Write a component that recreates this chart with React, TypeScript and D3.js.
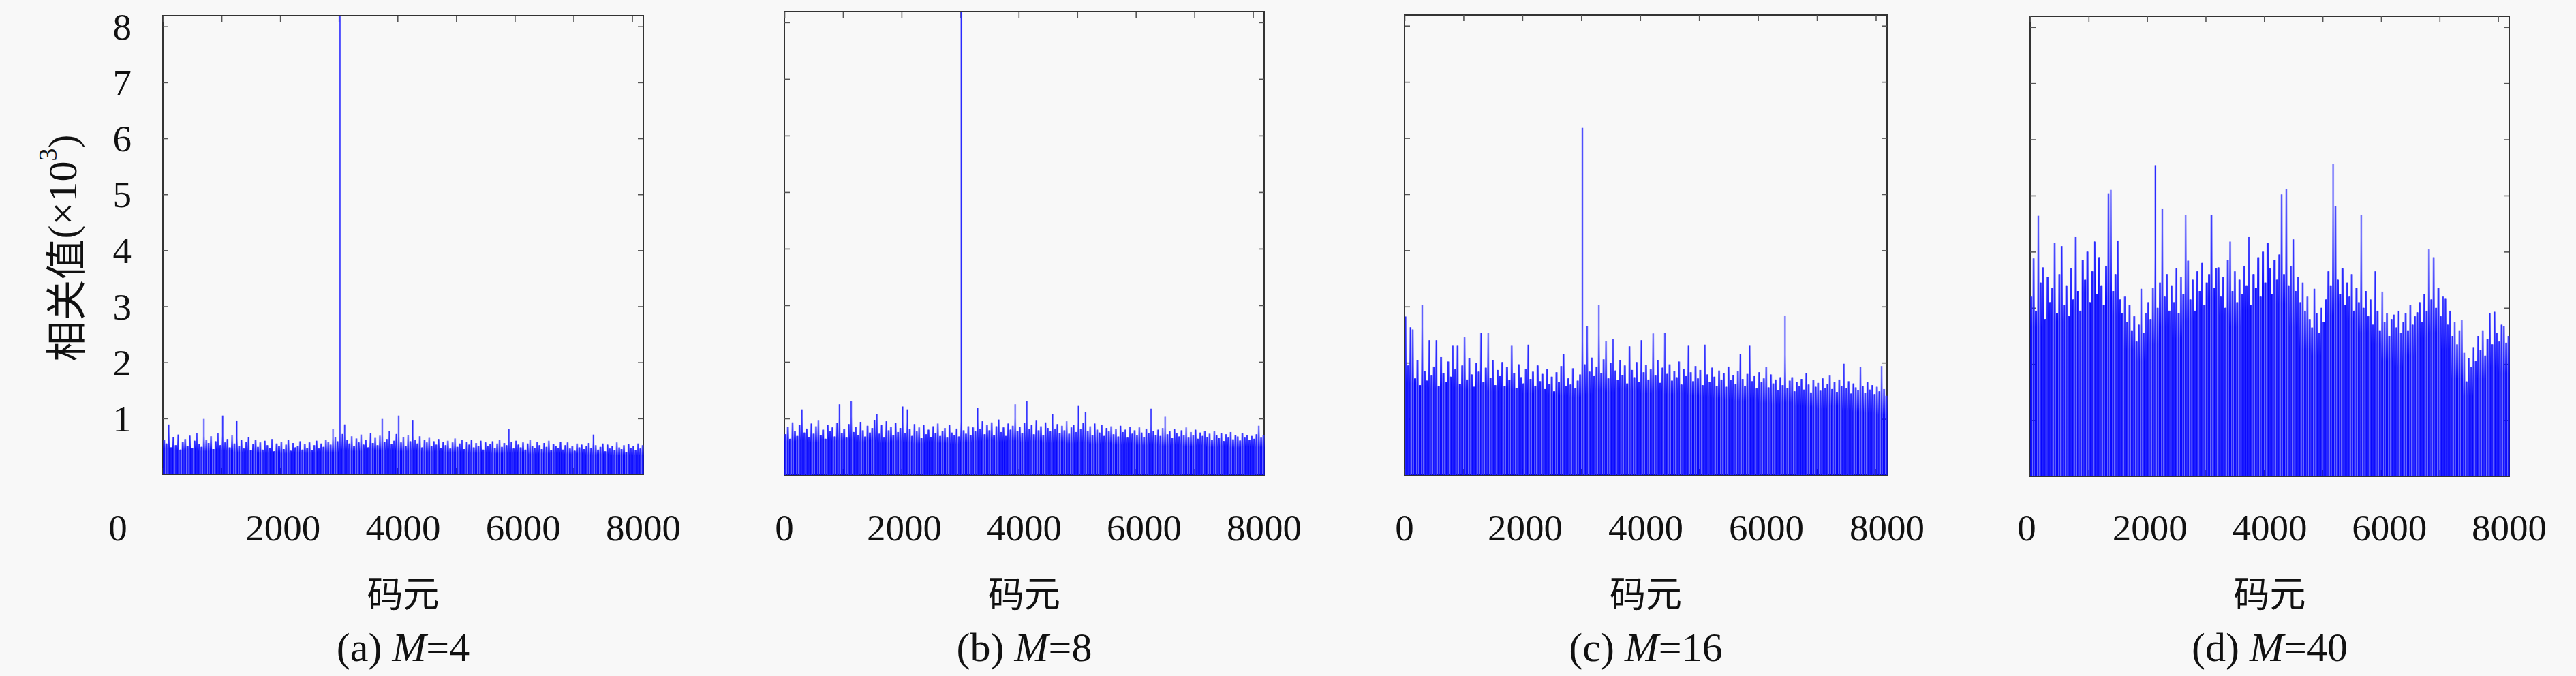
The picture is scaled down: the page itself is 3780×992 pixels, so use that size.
import * as d3 from "d3";
import React, { useRef, useEffect } from "react";

const WIDTH = 3780;
const HEIGHT = 992;
const CODE_LEN = 8191;
const Y_MAX = 8.191;
const STEP = 40; // code elements per peak sample
const BODY_STEP = 200; // code elements per dense-level sample

const xTickValues = [0, 1000, 2000, 3000, 4000, 5000, 6000, 7000, 8000];
const xTickLabels = [0, 2000, 4000, 6000, 8000];
const yTickValues = [1, 2, 3, 4, 5, 6, 7, 8];

// local maximum of the correlation every 40 code elements (x10^3)
const peaksM4 = [
  0.62, 0.55, 0.89, 0.48, 0.66, 0.52, 0.71, 0.44, 0.58, 0.63, 0.50, 0.69, 0.47, 0.60, 0.73, 0.54, 0.49, 0.99, 0.61, 0.56,
  0.68, 0.45, 0.59, 0.74, 0.52, 1.05, 0.57, 0.63, 0.48, 0.70, 0.55, 0.95, 0.50, 0.62, 0.46, 0.58, 0.66, 0.43, 0.54, 0.61,
  0.49, 0.57, 0.44, 0.60, 0.52, 0.47, 0.63, 0.41, 0.55, 0.50, 0.58, 0.45, 0.53, 0.61, 0.42, 0.56, 0.48, 0.51, 0.59, 0.44,
  0.54, 0.47, 0.57, 0.43, 0.52, 0.60, 0.46, 0.55, 0.49, 0.62, 0.58, 0.53, 0.81, 0.66, 0.59, 8.19, 0.72, 0.89, 0.61, 0.55,
  0.68, 0.50, 0.64, 0.57, 0.71, 0.53, 0.62, 0.48, 0.74, 0.56, 0.65, 0.52, 0.69, 0.99, 0.58, 0.63, 0.77, 0.54, 0.60, 0.72,
  1.05, 0.57, 0.66, 0.51, 0.70, 0.59, 0.96, 0.62, 0.55, 0.68, 0.48, 0.61, 0.57, 0.65, 0.50, 0.59, 0.53, 0.63, 0.47, 0.58,
  0.52, 0.60, 0.46, 0.57, 0.64, 0.49, 0.55, 0.61, 0.45, 0.58, 0.53, 0.62, 0.48, 0.56, 0.51, 0.60, 0.44, 0.57, 0.50, 0.54,
  0.59, 0.47, 0.55, 0.62, 0.49, 0.56, 0.52, 0.81, 0.58, 0.46, 0.60, 0.53, 0.48, 0.57, 0.44, 0.55, 0.61, 0.50, 0.47, 0.58,
  0.52, 0.45, 0.56, 0.49, 0.60, 0.43, 0.54, 0.50, 0.47, 0.58, 0.44, 0.52, 0.57, 0.46, 0.51, 0.42, 0.55, 0.48, 0.53, 0.45,
  0.50, 0.56, 0.47, 0.71, 0.52, 0.44, 0.49, 0.55, 0.41, 0.53, 0.46, 0.50, 0.43, 0.57, 0.48, 0.45, 0.52, 0.40, 0.54, 0.47,
  0.50, 0.43, 0.55, 0.46, 0.52,
];
const peaksM8 = [
  0.72, 0.85, 0.64, 0.93, 0.78, 0.69, 0.88, 1.16, 0.75, 0.82, 0.67, 0.91, 0.73, 0.86, 0.96, 0.70, 0.80, 0.64, 0.89, 0.77,
  0.84, 0.68, 0.92, 1.25, 0.74, 0.81, 0.66, 0.90, 1.30, 0.76, 0.85, 0.71, 0.94, 0.79, 0.68, 0.87, 0.75, 0.83, 0.97, 1.08,
  0.73, 0.88, 0.66, 0.95, 0.79, 0.85, 0.70, 0.92, 0.76, 0.83, 1.21, 0.74, 1.16, 0.81, 0.69, 0.90, 0.77, 0.84, 0.65, 0.88,
  0.72, 0.80, 0.67, 0.86, 0.74, 0.91, 0.69, 0.78, 0.83, 0.66, 0.89, 0.75, 0.71, 0.82, 0.68, 8.19, 0.79, 0.73, 0.86, 0.70,
  0.84, 0.77, 1.19, 0.81, 0.95, 0.72, 0.88, 0.79, 0.93, 0.70, 0.86, 0.98, 0.76, 0.84, 0.69, 0.91, 0.80, 0.87, 1.25, 0.78,
  0.85, 0.74, 0.92, 1.30, 0.81, 0.88, 0.72, 0.96, 0.79, 0.86, 0.70, 0.93, 0.83, 0.77, 1.08, 0.82, 0.90, 0.74, 0.87, 0.79,
  0.95, 0.73, 0.84, 0.89, 0.76, 1.22, 0.81, 0.92, 1.12, 0.78, 0.86, 0.71, 0.91, 0.80, 0.75, 0.88, 0.69, 0.83, 0.77, 0.86,
  0.72, 0.81, 0.68, 0.87, 0.76, 0.80, 0.66, 0.85, 0.73, 0.79, 0.70, 0.84, 0.75, 0.67, 0.82, 0.74, 1.17, 0.78, 0.71, 0.80,
  0.69, 0.83, 1.03, 0.72, 0.77, 0.65, 0.81, 0.74, 0.68, 0.79, 0.71, 0.84, 0.66, 0.76, 0.70, 0.80, 0.64, 0.75, 0.69, 0.78,
  0.67, 0.73, 0.62, 0.77, 0.70, 0.65, 0.74, 0.60, 0.72, 0.66, 0.76, 0.63, 0.71, 0.68, 0.61, 0.74, 0.66, 0.70, 0.62, 0.69,
  0.64, 0.72, 0.87, 0.66, 0.70,
];
const peaksM16 = [
  2.82, 1.95, 2.63, 2.59, 1.72, 2.05, 1.60, 3.03, 1.85, 1.68, 2.40, 1.77, 1.93, 2.40, 1.58, 2.10, 1.82, 1.66, 2.02, 1.75,
  2.30, 1.88, 2.30, 1.62, 1.95, 2.45, 1.70, 2.08, 1.79, 1.57, 1.99, 1.84, 2.53, 1.65, 1.91, 2.53, 1.73, 2.04, 1.60, 1.87,
  1.76, 2.01, 1.58, 1.92, 1.69, 2.30, 1.81, 1.55, 1.97, 1.74, 1.63, 1.89, 2.32, 1.71, 1.84, 1.59, 1.95, 1.67, 1.80, 1.53,
  1.88, 1.62, 1.75, 1.49, 1.83, 1.66, 1.94, 2.15, 1.58, 1.72, 1.61, 1.90, 1.54, 1.68, 1.79, 6.18, 1.97, 2.65, 1.84, 2.09,
  1.76, 1.93, 3.03, 1.81, 2.06, 2.38, 1.72, 1.99, 2.42, 1.86, 1.69, 2.04, 1.78, 1.95, 1.63, 2.29, 1.87, 1.74, 2.01, 1.66,
  2.40, 1.83, 1.96, 1.70, 1.88, 2.52, 1.77, 2.05, 1.64, 1.91, 2.53, 1.80, 1.97, 1.68, 1.85, 1.74, 2.02, 1.61, 1.89, 1.76,
  2.30, 1.83, 1.67, 1.94, 1.72, 1.87, 1.60, 2.32, 1.79, 1.66, 1.91, 1.75, 1.58, 1.86, 1.70, 1.82, 1.57, 1.93, 1.69, 1.78,
  1.62, 1.85, 2.15, 1.71, 1.59, 1.80, 2.30, 1.67, 1.76, 1.54, 1.83, 1.65, 1.72, 1.92, 1.56, 1.79, 1.63, 1.70, 1.51, 1.74,
  1.60, 2.84, 1.55, 1.68, 1.74, 1.49, 1.66, 1.58, 1.71, 1.52, 1.81, 1.61, 1.47, 1.69, 1.57, 1.64, 1.50, 1.72, 1.55, 1.62,
  1.77, 1.53, 1.66, 1.48, 1.70, 1.59, 1.98, 1.54, 1.67, 1.45, 1.63, 1.56, 1.51, 1.92, 1.58, 1.46, 1.65, 1.52, 1.60, 1.44,
  1.57, 1.49, 1.94, 1.53, 1.41,
];
const peaksM40 = [
  3.20, 3.88, 2.95, 4.64, 3.45, 3.72, 2.80, 3.55, 3.10, 3.35, 4.16, 2.90, 3.60, 4.10, 3.05, 3.40, 2.85, 3.70, 3.15, 4.26,
  3.30, 2.95, 3.85, 3.50, 4.00, 3.10, 3.65, 4.18, 3.25, 3.90, 3.40, 3.05, 3.75, 5.04, 5.10, 3.30, 3.60, 4.20, 3.15, 2.90,
  3.20, 2.75, 3.05, 2.60, 2.85, 2.40, 2.70, 3.34, 2.55, 2.90, 3.10, 2.80, 3.35, 5.54, 3.00, 3.45, 4.77, 3.20, 3.60, 2.95,
  3.40, 3.10, 3.70, 2.90, 3.55, 3.25, 4.66, 3.84, 3.15, 3.50, 2.95, 3.65, 3.30, 3.80, 3.05, 3.45, 3.60, 4.66, 3.35, 3.70,
  3.72, 3.20, 3.55, 3.00, 3.85, 4.18, 3.30, 3.65, 3.10, 3.50, 3.25, 3.75, 3.40, 4.26, 3.05, 3.60, 3.35, 3.90, 3.20, 4.00,
  3.45, 4.16, 3.70, 3.25, 3.85, 3.50, 3.95, 5.02, 3.60, 5.12, 3.40, 3.75, 4.22, 3.30, 3.55, 3.10, 3.45, 2.95, 3.20, 2.80,
  2.65, 3.34, 2.90, 2.55, 3.00, 2.75, 3.15, 3.65, 3.40, 5.56, 4.81, 3.50, 3.25, 3.70, 3.05, 3.45, 3.20, 3.60, 2.95, 3.35,
  3.10, 4.66, 3.00, 3.30, 2.85, 3.15, 2.70, 3.65, 2.95, 2.60, 3.29, 2.75, 2.90, 2.50, 2.80, 2.88, 2.65, 2.95, 2.55, 2.75,
  2.90, 2.60, 3.05, 2.70, 2.85, 2.92, 3.10, 2.75, 3.25, 2.95, 4.04, 3.15, 3.90, 3.00, 3.35, 2.85, 3.20, 3.16, 2.70, 2.95,
  2.50, 2.75, 2.35, 2.60, 2.78, 2.20, 1.69, 2.10, 1.95, 2.30, 2.05, 2.50, 2.25, 2.60, 2.15, 2.45, 2.90, 2.35, 2.93, 2.55,
  2.40, 2.70, 2.67, 2.38, 2.50,
];

// level below which the trace is solid blue, every 200 code elements (x10^3)
const bodyM4 = [
  0.45, 0.42, 0.44, 0.40, 0.43, 0.41, 0.38, 0.40, 0.37, 0.39, 0.36, 0.38, 0.37, 0.39, 0.38, 0.42, 0.40, 0.43, 0.41, 0.42,
  0.40, 0.41, 0.39, 0.40, 0.38, 0.39, 0.37, 0.38, 0.36, 0.37, 0.38, 0.35, 0.36, 0.37, 0.35, 0.36, 0.34, 0.35, 0.33, 0.34, 0.33,
];
const bodyM8 = [
  0.58, 0.60, 0.56, 0.62, 0.59, 0.61, 0.57, 0.60, 0.55, 0.58, 0.56, 0.54, 0.57, 0.55, 0.53, 0.56, 0.58, 0.60, 0.57, 0.59,
  0.56, 0.58, 0.55, 0.57, 0.54, 0.56, 0.53, 0.55, 0.52, 0.54, 0.51, 0.53, 0.50, 0.52, 0.49, 0.51, 0.48, 0.50, 0.47, 0.49, 0.48,
];
const bodyM16 = [
  1.60, 1.55, 1.50, 1.58, 1.52, 1.48, 1.55, 1.45, 1.50, 1.47, 1.42, 1.46, 1.40, 1.38, 1.35, 1.40, 1.48, 1.44, 1.50, 1.46,
  1.42, 1.45, 1.40, 1.43, 1.38, 1.36, 1.33, 1.30, 1.28, 1.32, 1.25, 1.22, 1.26, 1.20, 1.18, 1.15, 1.20, 1.12, 1.10, 1.08, 1.05,
];
const bodyM40 = [
  2.6, 2.8, 2.7, 2.9, 3.2, 3.4, 3.1, 2.8, 2.2, 2.0, 2.3, 2.6, 2.4, 2.7, 2.9, 3.1, 2.8, 2.6, 2.9, 3.3,
  3.4, 3.0, 2.6, 2.2, 2.1, 2.8, 3.0, 2.7, 2.5, 2.3, 2.0, 1.9, 2.1, 2.4, 2.5, 2.2, 1.7, 1.4, 1.7, 1.9, 1.8,
];

const panels = [
  { tag: "a", m: "4", peaks: peaksM4, body: bodyM4, left: 239, right: 944, top: 23, bottom: 696, yLabels: true, zeroShift: -66 },
  { tag: "b", m: "8", peaks: peaksM8, body: bodyM8, left: 1151, right: 1855, top: 17, bottom: 697, yLabels: false, zeroShift: 0 },
  { tag: "c", m: "16", peaks: peaksM16, body: bodyM16, left: 2061, right: 2769, top: 22, bottom: 697, yLabels: false, zeroShift: 0 },
  { tag: "d", m: "40", peaks: peaksM40, body: bodyM40, left: 2979, right: 3682, top: 24, bottom: 699, yLabels: false, zeroShift: -5 },
];

const SERIF = "'Liberation Serif', 'DejaVu Serif', serif";
const CJK = "'Noto Sans CJK SC', sans-serif";

const App: React.FC = () => {
  const svgRef = useRef<SVGSVGElement | null>(null);

  useEffect(() => {
    const svg = d3.select(svgRef.current);
    svg.selectAll("*").remove();

    svg.append("rect").attr("width", WIDTH).attr("height", HEIGHT).attr("fill", "#f8f8f8");
    const defs = svg.append("defs");

    panels.forEach((p) => {
      const w = p.right - p.left;
      const h = p.bottom - p.top;
      const x = d3.scaleLinear().domain([0, CODE_LEN]).range([0, w]);
      const y = d3.scaleLinear().domain([0, Y_MAX]).range([h, 0]).clamp(true);
      // the printed labels sit on a 0..8000 spacing of the full box width
      const xLab = d3.scaleLinear().domain([0, 8000]).range([0, w]);
      const stemW = (x(STEP) - x(0)) * 0.9;

      // one fade per dense-level bin: solid blue up to the level, lighter above
      p.body.forEach((b, k) => {
        const lg = defs.append("linearGradient")
          .attr("id", `fade-${p.tag}-${k}`)
          .attr("gradientUnits", "userSpaceOnUse")
          .attr("x1", 0).attr("x2", 0)
          .attr("y1", y(0)).attr("y2", y(b * 1.7));
        lg.append("stop").attr("offset", 0).attr("stop-color", "#0000ff").attr("stop-opacity", 1);
        lg.append("stop").attr("offset", 0.6).attr("stop-color", "#0000ff").attr("stop-opacity", 1);
        lg.append("stop").attr("offset", 1).attr("stop-color", "#6a6aff").attr("stop-opacity", 0.45);
      });

      const g = svg.append("g").attr("transform", `translate(${p.left},${p.top})`);

      g.append("rect")
        .attr("width", w)
        .attr("height", h)
        .attr("fill", "none")
        .attr("stroke", "#333")
        .attr("stroke-width", 2);

      const tickStyle = (sel: d3.Selection<SVGGElement, unknown, null, undefined>) => {
        sel.select(".domain").remove();
        sel.selectAll(".tick line").attr("stroke", "#555").attr("stroke-width", 1.6);
        sel.selectAll(".tick text").remove();
      };
      g.append("g").call(d3.axisBottom(x).tickValues(xTickValues).tickSize(9)).call(tickStyle);
      g.append("g").attr("transform", `translate(0,${h})`)
        .call(d3.axisTop(x).tickValues(xTickValues).tickSize(9)).call(tickStyle);
      g.append("g").call(d3.axisRight(y).tickValues(yTickValues).tickSize(8)).call(tickStyle);
      g.append("g").attr("transform", `translate(${w},0)`)
        .call(d3.axisLeft(y).tickValues(yTickValues).tickSize(8)).call(tickStyle);

      const stems = p.peaks.map((v, i) => {
        const c = i * STEP + STEP / 2;
        return { c, v, k: Math.min(p.body.length - 1, Math.floor(c / BODY_STEP)) };
      });

      // dense part of the trace, fading out above the local level
      g.append("g").selectAll("rect").data(stems).join("rect")
        .attr("x", (d) => x(d.c) - stemW / 2)
        .attr("width", stemW)
        .attr("y", (d) => y(d.v))
        .attr("height", (d) => y(0) - y(d.v))
        .attr("fill", (d) => `url(#fade-${p.tag}-${d.k})`);

      // thin spikes up to the local maximum
      g.append("g").selectAll("line").data(stems).join("line")
        .attr("x1", (d) => x(d.c))
        .attr("x2", (d) => x(d.c))
        .attr("y1", y(0))
        .attr("y2", (d) => y(d.v))
        .attr("stroke", "#2a2aff")
        .attr("stroke-width", 1.4);

      // x tick labels
      g.append("g").selectAll("text").data(xTickLabels).join("text")
        .attr("x", (d) => xLab(d) + (d === 0 ? p.zeroShift : 0))
        .attr("y", 793 - p.top)
        .attr("text-anchor", "middle")
        .attr("font-family", SERIF)
        .attr("font-size", 55)
        .attr("fill", "#111")
        .text((d) => String(d));

      if (p.yLabels) {
        g.append("g").selectAll("text").data(yTickValues).join("text")
          .attr("x", -46)
          .attr("y", (d) => y(d) + 19)
          .attr("text-anchor", "end")
          .attr("font-family", SERIF)
          .attr("font-size", 55)
          .attr("fill", "#111")
          .text((d) => String(d));

        const yl = svg.append("text")
          .attr("transform", `translate(92,${p.top + 341}) rotate(-90)`)
          .attr("text-anchor", "middle")
          .attr("dominant-baseline", "central")
          .attr("fill", "#111")
          .attr("font-size", 60);
        yl.append("tspan").attr("font-family", CJK).text("相关值");
        yl.append("tspan").attr("font-family", SERIF).text("(×10");
        yl.append("tspan").attr("font-family", SERIF).attr("font-size", 38).attr("dy", -22).text("3");
        yl.append("tspan").attr("font-family", SERIF).attr("dy", 22).text(")");
      }

      // axis title
      g.append("text")
        .attr("x", w / 2)
        .attr("y", 868 - p.top)
        .attr("text-anchor", "middle")
        .attr("dominant-baseline", "central")
        .attr("font-family", CJK)
        .attr("font-size", 53)
        .attr("fill", "#111")
        .text("码元");

      // sub-caption
      const cap = g.append("text")
        .attr("x", w / 2)
        .attr("y", 970 - p.top)
        .attr("text-anchor", "middle")
        .attr("font-family", SERIF)
        .attr("font-size", 60)
        .attr("fill", "#111");
      cap.append("tspan").text(`(${p.tag}) `);
      cap.append("tspan").attr("font-style", "italic").text("M");
      cap.append("tspan").text(`=${p.m}`);
    });
  }, []);

  return (
    <>
      <style>{`body{margin:0;background:#f8f8f8}`}</style>
      <svg ref={svgRef} width={WIDTH} height={HEIGHT} style={{ display: "block" }} />
    </>
  );
};

export default App;
